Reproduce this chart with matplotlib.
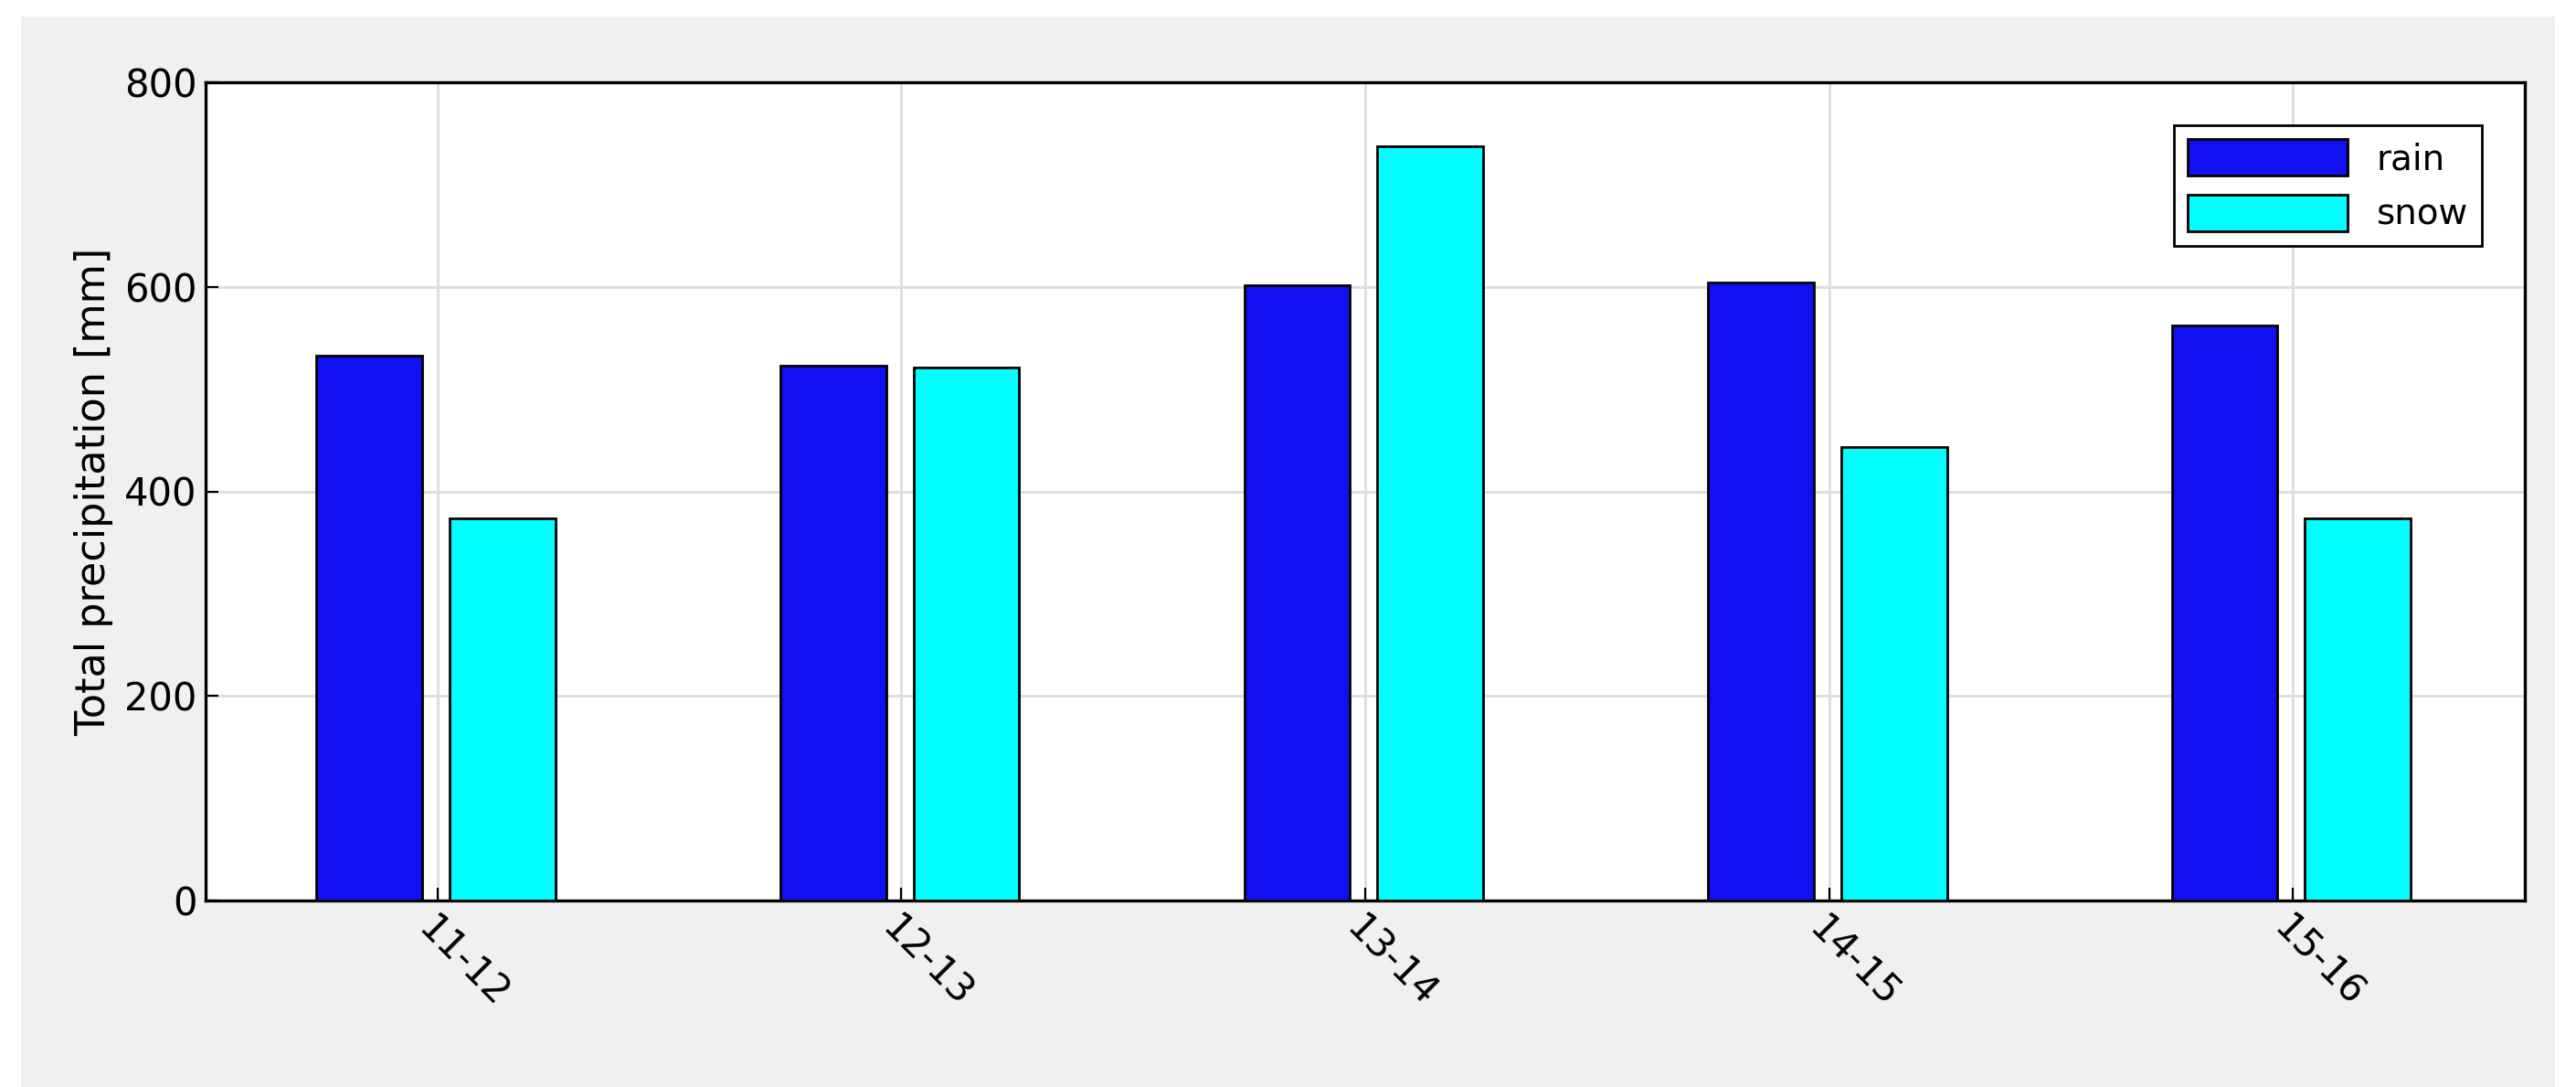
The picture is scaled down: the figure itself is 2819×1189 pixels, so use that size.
import matplotlib
matplotlib.use("Agg")
import matplotlib.pyplot as plt
import numpy as np

categories = ["11-12", "12-13", "13-14", "14-15", "15-16"]
rain = [533, 523, 602, 604, 562]
snow = [374, 521, 737, 443, 374]

W, H = 2819, 1189
fig = plt.figure(figsize=(W/200, H/200), dpi=200, facecolor="white")
bg = fig.add_axes([0.008, 0.0, 0.984, 0.985])
bg.set_facecolor("#f0f0f0"); bg.set_xticks([]); bg.set_yticks([])
for s in bg.spines.values(): s.set_visible(False)
bg.set_zorder(-5)

ax = fig.add_axes([225/W, 1-985/H, (2763-225)/W, (985-90)/H])
ax.set_facecolor("white")
x = np.arange(len(categories))
w = 0.228
ax.bar(x-0.147, rain, w, color="#1010f0", edgecolor="black", linewidth=1, label="rain", zorder=3)
ax.bar(x+0.14, snow, w, color="#00ffff", edgecolor="black", linewidth=1, label="snow", zorder=3)
ax.set_xlim(-0.5, 4.5)
ax.set_ylim(0, 800)
ax.set_yticks([0, 200, 400, 600, 800])
ax.set_xticks(x)
ax.set_xticklabels(categories, rotation=-45, ha="left", rotation_mode="anchor")
ax.tick_params(labelsize=15, direction="in", length=5)
ax.grid(True, color="#dddddd", linewidth=1, zorder=0)
ax.set_ylabel("Total precipitation [mm]", fontsize=16)
for s in ax.spines.values(): s.set_linewidth(1.2)
ax.legend(loc="upper right", fontsize=14, fancybox=False, edgecolor="black",
          framealpha=1, handlelength=4.5, handleheight=1.2, borderaxespad=1.2)
fig.savefig("out.png", dpi=200, facecolor="white")
